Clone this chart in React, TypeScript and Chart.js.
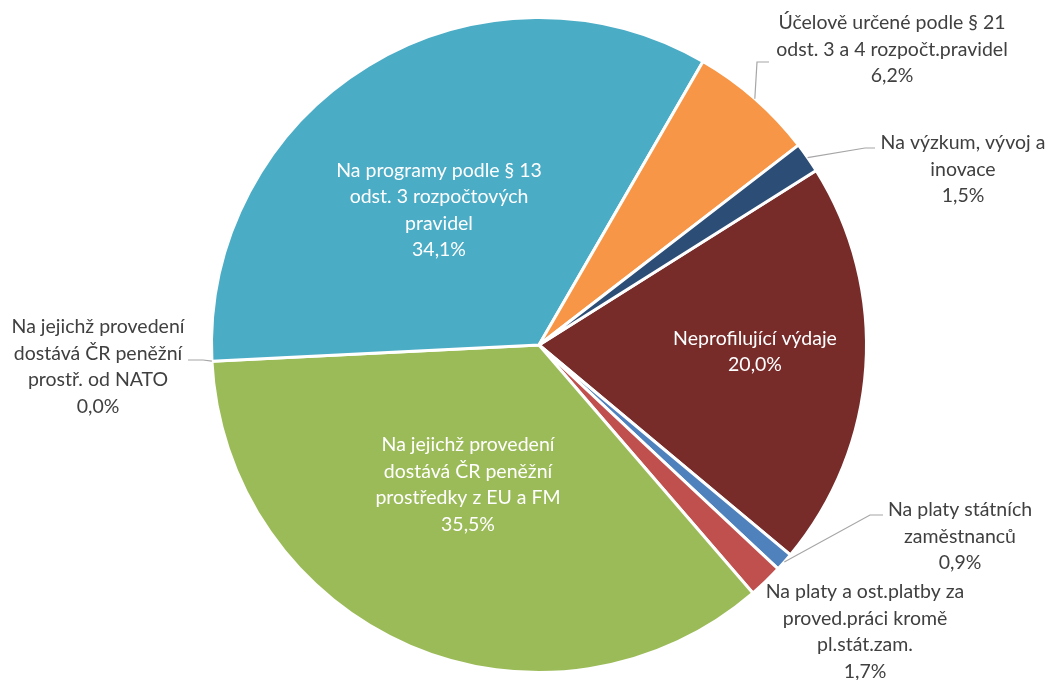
import React, { useEffect, useRef } from "react";
import { Chart, registerables } from "chart.js";

Chart.register(...registerables);

const categories: string[] = [
  "Neprofilující výdaje",
  "Na platy státních\nzaměstnanců",
  "Na platy a ost.platby za\nproved.práci kromě\npl.stát.zam.",
  "Na jejichž provedení\ndostává ČR peněžní\nprostředky z EU a FM",
  "Na jejichž provedení\ndostává ČR peněžní\nprostř. od NATO",
  "Na programy podle § 13\nodst. 3 rozpočtových\npravidel",
  "Účelově určené podle § 21\nodst. 3 a 4 rozpočt.pravidel",
  "Na výzkum, vývoj a\ninovace",
];

const shares: number[] = [20.0, 0.9, 1.7, 35.5, 0.0, 34.1, 6.2, 1.5];

const colors: string[] = [
  "#772C2A",
  "#4F81BD",
  "#C0504D",
  "#9BBB59",
  "#8064A2",
  "#4BACC6",
  "#F79646",
  "#2C4D75",
];

// label layout: text block centre offset from pie centre, text colour, optional leader (elbow, end) offsets
type Layout = { dx: number; dy: number; inside: boolean; leader?: [number, number, number, number] };
const labelLayout: Layout[] = [
  { dx: 216, dy: 6.5, inside: true },
  { dx: 421, dy: 191.5, inside: false, leader: [331, 170, 344, 170] },
  { dx: 326, dy: 286.5, inside: false },
  { dx: -71, dy: 139.5, inside: true },
  { dx: -441, dy: 21.5, inside: false, leader: [-336, 15, -351, 15] },
  { dx: -100, dy: -135, inside: true },
  { dx: 353, dy: -295.5, inside: false, leader: [218, -283, 230, -283] },
  { dx: 424, dy: -175.5, inside: false, leader: [326, -197, 336, -197] },
];

const FONT = '19.5px Lato, "Open Sans", sans-serif';
const LINE_H = 26.5;

const labelPlugin = {
  id: "sliceLabels",
  afterDatasetsDraw(chart: any) {
    const ctx = chart.ctx as CanvasRenderingContext2D;
    const meta = chart.getDatasetMeta(0);
    ctx.save();
    meta.data.forEach((arc: any, i: number) => {
      const p = arc.getProps(["x", "y", "startAngle", "endAngle", "outerRadius"], true);
      const mid = (p.startAngle + p.endAngle) / 2;
      const L = labelLayout[i];
      if (L.leader) {
        const sx = p.x + Math.cos(mid) * p.outerRadius;
        const sy = p.y + Math.sin(mid) * p.outerRadius;
        ctx.beginPath();
        ctx.strokeStyle = "#A6A6A6";
        ctx.lineWidth = 1.2;
        ctx.moveTo(sx, sy);
        ctx.lineTo(p.x + L.leader[0], p.y + L.leader[1]);
        ctx.lineTo(p.x + L.leader[2], p.y + L.leader[3]);
        ctx.stroke();
      }
      const lines = categories[i].split("\n");
      lines.push(shares[i].toFixed(1).replace(".", ",") + "%");
      ctx.font = FONT;
      ctx.fillStyle = L.inside ? "#FFFFFF" : "#404040";
      ctx.textAlign = "center";
      ctx.textBaseline = "middle";
      const cx = p.x + L.dx;
      const cy = p.y + L.dy;
      const top = cy - ((lines.length - 1) * LINE_H) / 2;
      lines.forEach((ln, k) => ctx.fillText(ln, cx, top + k * LINE_H));
    });
    ctx.restore();
  },
};

export default function App() {
  const ref = useRef<HTMLCanvasElement | null>(null);
  useEffect(() => {
    if (!ref.current) return;
    const chart = new Chart(ref.current, {
      type: "pie",
      data: {
        labels: categories,
        datasets: [
          {
            data: shares,
            backgroundColor: colors,
            borderColor: "#FFFFFF",
            borderWidth: 3,
          },
        ],
      },
      options: {
        animation: false,
        responsive: true,
        maintainAspectRatio: false,
        rotation: 57.8,
        layout: { padding: { left: 210, right: 179, top: 16, bottom: 6 } },
        plugins: {
          legend: { display: false },
          tooltip: { enabled: false },
        },
      },
      plugins: [labelPlugin],
    });
    return () => chart.destroy();
  }, []);
  return (
    <div style={{ position: "fixed", left: 0, top: 0, width: 1047, height: 680, background: "#fff" }}>
      <canvas ref={ref} style={{ width: "100%", height: "100%" }} />
    </div>
  );
}
